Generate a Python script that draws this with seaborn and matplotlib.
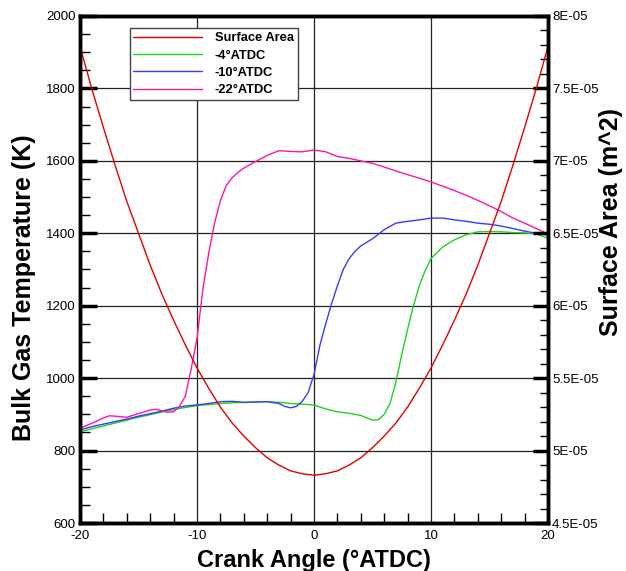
import matplotlib
matplotlib.use("Agg")
import matplotlib.pyplot as plt
from matplotlib.ticker import MultipleLocator, FuncFormatter
from matplotlib.lines import Line2D
import seaborn as sns

# ---- data -------------------------------------------------------------
area_x = list(range(-20, 21))
area_val = [7.79, 7.50, 7.23, 6.97, 6.72, 6.50, 6.28, 6.08, 5.90, 5.73,
            5.57, 5.43, 5.30, 5.19, 5.10, 5.02, 4.95, 4.90, 4.86, 4.84,
            4.83,
            4.84, 4.86, 4.90, 4.95, 5.02, 5.10, 5.19, 5.30, 5.43, 5.57,
            5.73, 5.90, 6.08, 6.28, 6.50, 6.72, 6.97, 7.23, 7.50, 7.79]
area_val = [v * 1e-5 for v in area_val]

m4_x = [-20, -19, -18, -17, -16, -15, -14, -13, -12, -11, -10, -9, -8, -7, -6, -5,
        -4, -3, -2, -1, 0, 1, 2, 3, 4, 5, 5.5, 6, 6.5, 7, 7.5, 8, 8.5, 9, 9.5, 10,
        11, 12, 13, 14, 15, 16, 17, 18, 19, 20]
m4_T = [852, 860, 868, 876, 884, 892, 899, 906, 913, 919, 924, 927, 930, 932, 933, 934,
        935, 933, 930, 928, 926, 915, 907, 903, 897, 884, 885, 900, 930, 990, 1065, 1135,
        1200, 1255, 1297, 1330, 1362, 1382, 1396, 1404, 1405, 1404, 1402, 1401, 1398, 1386]

m10_x = [-20, -19, -18, -17, -16, -15, -14, -13, -12, -11, -10, -9, -8, -7, -6, -5, -4,
         -3, -2.5, -2, -1.5, -1, -0.5, 0, 0.5, 1, 1.5, 2, 2.5, 3, 3.5, 4, 5, 6, 7, 8, 9,
         10, 11, 12, 13, 14, 15, 16, 17, 18, 19, 20]
m10_T = [857, 866, 873, 880, 887, 895, 902, 909, 917, 923, 926, 930, 935, 936, 933, 934, 935,
         930, 922, 918, 922, 936, 960, 1010, 1090, 1150, 1205, 1255, 1300, 1330, 1350, 1365,
         1385, 1410, 1428, 1433, 1437, 1442, 1442, 1437, 1433, 1428, 1425, 1420, 1413, 1406,
         1400, 1395]

m22_x = [-20, -19, -18, -17.5, -17, -16, -15, -14, -13.5, -13, -12.5, -12, -11.5, -11,
         -10.5, -10, -9.5, -9, -8.5, -8, -7.5, -7, -6.5, -6, -5.5, -5, -4, -3, -2, -1, 0,
         1, 2, 3, 4, 5, 6, 7, 8, 9, 10, 11, 12, 13, 14, 15, 16, 17, 18, 19, 20]
m22_T = [862, 875, 890, 896, 895, 892, 902, 912, 914, 910, 906, 907, 922, 950,
         1025, 1110, 1245, 1345, 1428, 1490, 1532, 1553, 1568, 1580, 1589, 1598, 1615, 1628,
         1626, 1625, 1630, 1625, 1612, 1607, 1600, 1593, 1583, 1572, 1562, 1552, 1542, 1530,
         1518, 1505, 1491, 1476, 1460, 1442, 1428, 1413, 1398]

labels = ["Surface Area", "-4\u00b0ATDC", "-10\u00b0ATDC", "-22\u00b0ATDC"]
colors = ["#e00000", "#1ed21e", "#3a3aff", "#ff14a8"]

# ---- style ------------------------------------------------------------
sns.set_theme(style="white")
plt.rcParams["font.family"] = ["Liberation Sans", "DejaVu Sans"]
plt.rcParams["axes.unicode_minus"] = False
plt.rcParams["text.color"] = "black"
plt.rcParams["axes.labelcolor"] = "black"
plt.rcParams["xtick.color"] = "black"
plt.rcParams["ytick.color"] = "black"

fig = plt.figure(figsize=(6.26, 5.71), dpi=100)
ax = fig.add_axes([80 / 626, 1 - 523 / 571, 468 / 626, 507 / 571])
ax2 = ax.twinx()

sns.lineplot(x=m4_x, y=m4_T, ax=ax, color=colors[1], lw=1.0)
sns.lineplot(x=m10_x, y=m10_T, ax=ax, color=colors[2], lw=1.0)
sns.lineplot(x=m22_x, y=m22_T, ax=ax, color=colors[3], lw=1.0)
sns.lineplot(x=area_x, y=area_val, ax=ax2, color=colors[0], lw=1.0)

ax.set_xlim(-20, 20)
ax.set_ylim(600, 2000)
ax2.set_ylim(4.5e-5, 8e-5)

ax.xaxis.set_major_locator(MultipleLocator(10))
ax.xaxis.set_minor_locator(MultipleLocator(2))
ax.yaxis.set_major_locator(MultipleLocator(200))
ax.yaxis.set_minor_locator(MultipleLocator(50))
ax2.yaxis.set_major_locator(MultipleLocator(0.5e-5))
ax2.yaxis.set_minor_locator(MultipleLocator(0.1e-5))


def sci(v, pos):
    s = "%.1E" % v
    mant, exp = s.split("E")
    if mant.endswith(".0"):
        mant = mant[:-2]
    return mant + "E" + exp


ax2.yaxis.set_major_formatter(FuncFormatter(sci))

for a in (ax, ax2):
    for sp in a.spines.values():
        sp.set_linewidth(2.5)
        sp.set_color("black")

ax.grid(True, which="major", color="#222222", lw=0.9)
ax.set_axisbelow(True)

ax.tick_params(which="major", direction="in", length=12, width=2.5, labelsize=9.5,
               colors="black", pad=3, top=False, right=False)
ax.tick_params(which="minor", direction="in", length=7, width=1, colors="black",
               top=False, right=False, bottom=True, left=True)
ax2.tick_params(which="major", direction="in", length=11, width=2.5, labelsize=9.5,
                colors="black", pad=3)
ax2.tick_params(which="minor", direction="in", length=6, width=1, colors="black", right=True)
ax.tick_params(axis="x", pad=5)

ax.set_xlabel("Crank Angle (\u00b0ATDC)", fontsize=17, fontweight="bold", labelpad=5)
ax.set_ylabel("Bulk Gas Temperature (K)", fontsize=18, fontweight="bold")
ax2.set_ylabel("Surface Area (m^2)", fontsize=18, fontweight="bold")
ax.yaxis.set_label_coords(-0.094, 0.465)
ax2.yaxis.set_label_coords(1.109, 0.594)

handles = [Line2D([], [], color=c, lw=1.0) for c in colors]
leg = ax2.legend(handles, labels, loc="upper left", bbox_to_anchor=(0.106, 0.976),
                 frameon=True, fancybox=False, framealpha=1, edgecolor="#444444",
                 prop={"weight": "bold", "size": 9.3}, handlelength=5.3,
                 borderpad=0.3, labelspacing=0.42, handletextpad=1.0, borderaxespad=0)
leg.get_frame().set_linewidth(1.0)

fig.savefig("out.png", dpi=100)
